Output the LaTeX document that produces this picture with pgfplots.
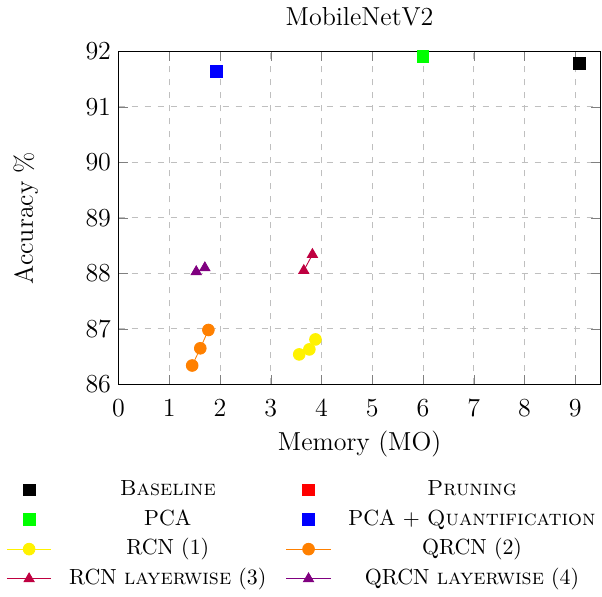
\documentclass[border=0pt]{standalone}
\usepackage{pgfplots}
\pgfplotsset{compat=1.18}
\begin{document}
\begin{tikzpicture}
\begin{axis}[
  scale only axis, width=222.5pt, height=153.7pt,
  xmin=0, xmax=9.5, ymin=86, ymax=92,
  xtick={0,1,2,3,4,5,6,7,8,9}, ytick={86,87,88,89,90,91,92},
  grid=major, grid style={dashed, gray!50},
  title={MobileNetV2},
  title style={font=\large, yshift=2.3pt},
  label style={font=\large},
  xlabel={Memory (MO)}, ylabel={Accuracy \%},
  ylabel shift=15pt,
  tick label style={font=\large},
  xticklabel style={yshift=-3.5pt},
  legend columns=2,
  legend cell align=center,
  legend image code/.code={\draw[mark repeat=2,mark phase=2,#1] plot coordinates {(0cm,0cm) (0.36cm,0cm) (0.72cm,0cm)};},
  legend style={at={(-0.247,-0.262)}, anchor=north west, draw=none, inner sep=3pt,
    font=\fontsize{10.1pt}{12pt}\selectfont,
    nodes={inner sep=0pt, text height=7.8pt, text depth=2.6pt},
    row sep=3.3pt,
    /tikz/every odd column/.append style={column sep=8pt},
    /tikz/every even column/.append style={column sep=9pt}},
  mark size=2.7pt,
]
\addplot[only marks, mark=square*, black] coordinates {(9.08,91.78)};
\addlegendentry{\textsc{Baseline}}
\addlegendimage{only marks, mark=square*, red}
\addlegendentry{\textsc{Pruning}}
\addplot[only marks, mark=square*, green] coordinates {(6.0,91.91)};
\addlegendentry{PCA}
\addplot[only marks, mark=square*, blue] coordinates {(1.93,91.64)};
\addlegendentry{PCA + \textsc{Quantification}}
\addplot[yellow, mark=*] coordinates {(3.56,86.54) (3.76,86.63) (3.88,86.81)};
\addlegendentry{RCN (1)}
\addplot[orange, mark=*] coordinates {(1.45,86.34) (1.61,86.65) (1.77,86.98)};
\addlegendentry{QRCN (2)}
\addplot[purple, mark=triangle*] coordinates {(3.65,88.05) (3.82,88.34)};
\addlegendentry{RCN \textsc{layerwise} (3)}
\addplot[violet, mark=triangle*] coordinates {(1.53,88.03) (1.70,88.10)};
\addlegendentry{QRCN \textsc{layerwise} (4)}
\end{axis}
\end{tikzpicture}
\end{document}
